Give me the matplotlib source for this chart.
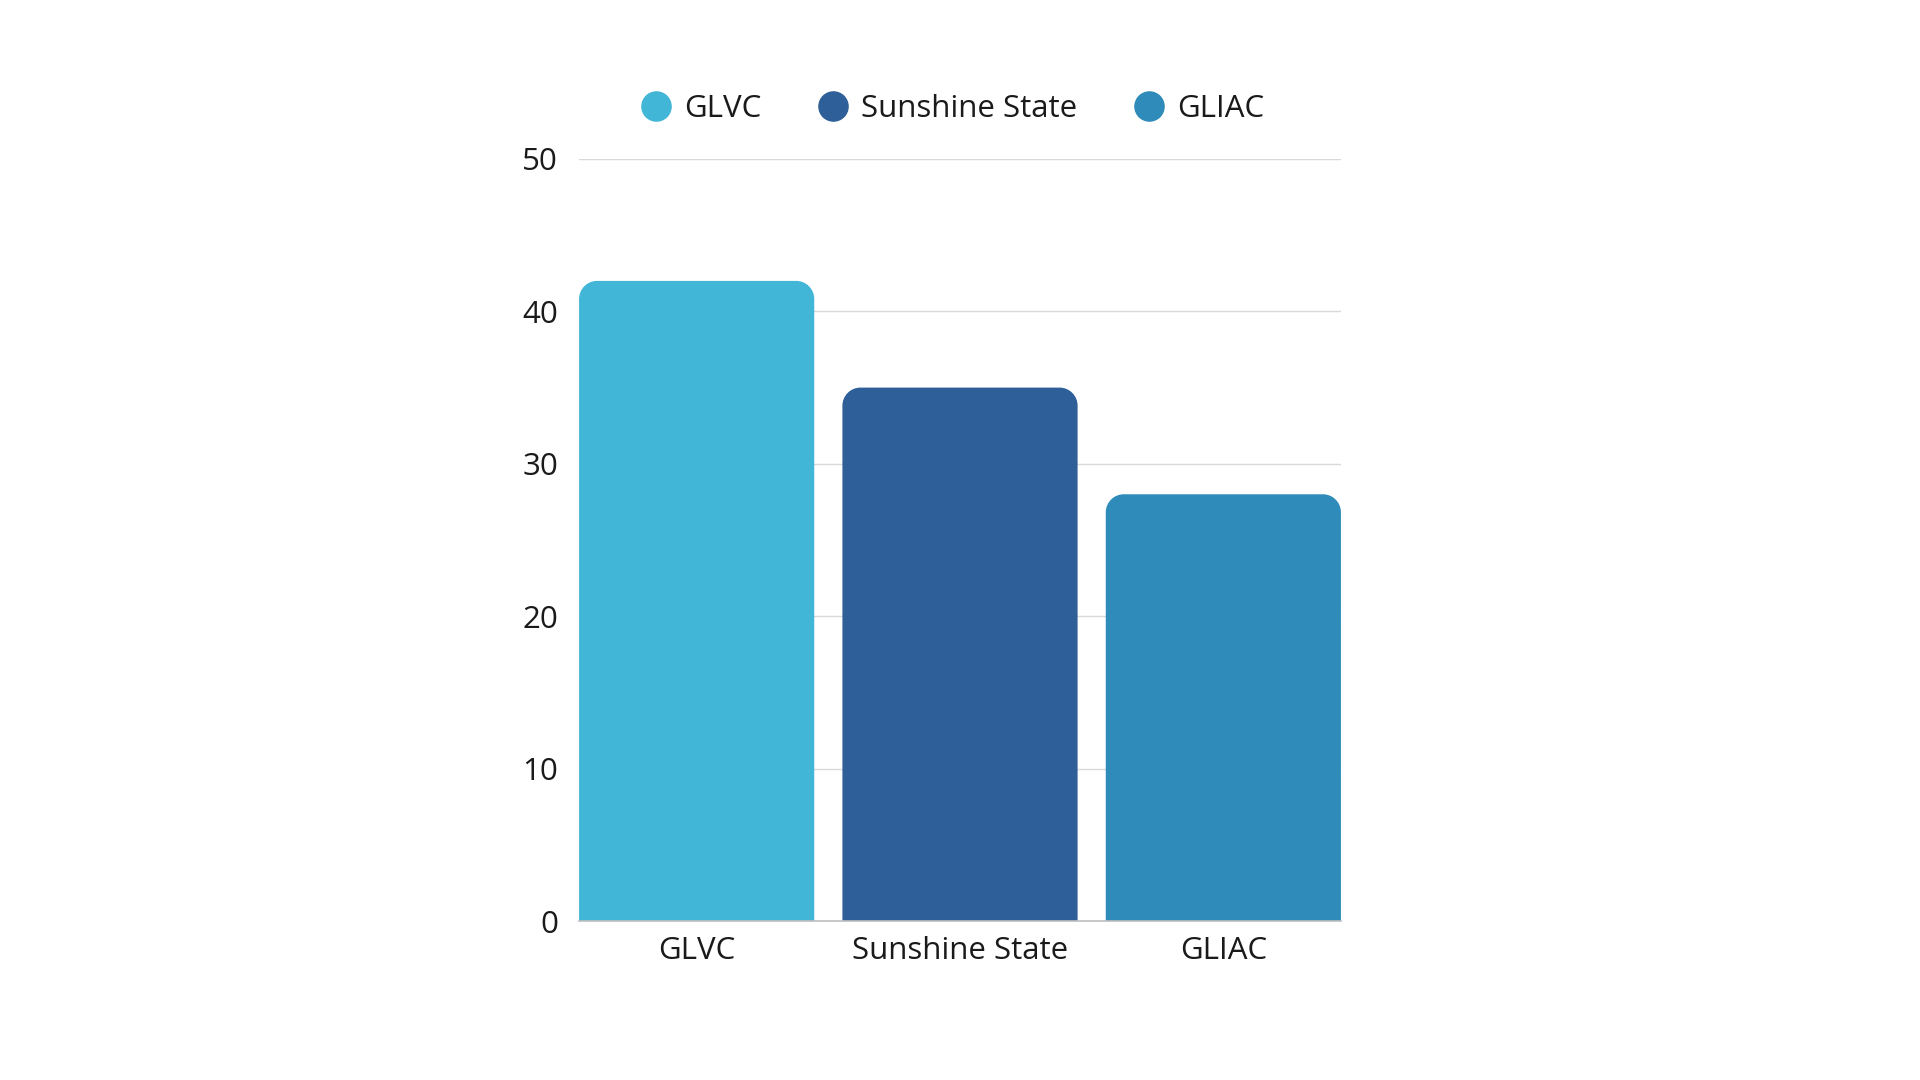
import matplotlib
matplotlib.use("Agg")
import matplotlib.pyplot as plt
from matplotlib.path import Path
from matplotlib.patches import PathPatch
from matplotlib.lines import Line2D

categories = ["GLVC", "Sunshine State", "GLIAC"]
values = [42, 35, 28]
colors = ["#42B6D6", "#2E5F98", "#2E8BBA"]
yticks = [0, 10, 20, 30, 40, 50]

plt.rcParams['font.family'] = ['Open Sans', 'DejaVu Sans']

fig = plt.figure(figsize=(19.2, 10.8), dpi=100)
ax = fig.add_axes([0.3016, 0.1472, 0.3968, 0.7056])

width = 0.893
bars = ax.bar(range(len(categories)), values, width=width, color=colors, zorder=3)
ax.set_xlim(-width / 2, len(categories) - 1 + width / 2)
ax.set_ylim(0, 50)
ax.set_yticks(yticks)
ax.set_yticklabels([str(t) for t in yticks])
ax.set_xticks(range(len(categories)))
ax.set_xticklabels(categories)

fig.canvas.draw()
# rounded top corners
r_px = 18
bbox = ax.get_window_extent()
px_per_x = bbox.width / (ax.get_xlim()[1] - ax.get_xlim()[0])
px_per_y = bbox.height / (ax.get_ylim()[1] - ax.get_ylim()[0])
rx = r_px / px_per_x
ry = r_px / px_per_y
k = 0.5523
for b in bars:
    x0 = b.get_x(); w = b.get_width(); h = b.get_height(); y0 = b.get_y()
    x1 = x0 + w; y1 = y0 + h
    verts = [
        (x0, y0), (x0, y1 - ry),
        (x0, y1 - ry + k * ry), (x0 + rx - k * rx, y1), (x0 + rx, y1),
        (x1 - rx, y1),
        (x1 - rx + k * rx, y1), (x1, y1 - ry + k * ry), (x1, y1 - ry),
        (x1, y0), (x0, y0),
    ]
    codes = [Path.MOVETO, Path.LINETO,
             Path.CURVE4, Path.CURVE4, Path.CURVE4,
             Path.LINETO,
             Path.CURVE4, Path.CURVE4, Path.CURVE4,
             Path.LINETO, Path.CLOSEPOLY]
    patch = PathPatch(Path(verts, codes), facecolor=b.get_facecolor(),
                      edgecolor='none', zorder=3)
    ax.add_patch(patch)
    b.set_visible(False)

for s in ['top', 'right', 'left']:
    ax.spines[s].set_visible(False)
ax.spines['bottom'].set_color('#BFBFBF')
ax.spines['bottom'].set_linewidth(1.2)
ax.spines['bottom'].set_zorder(4)
ax.yaxis.grid(True, color='#D9D9D9', linewidth=1.0, zorder=0)
ax.set_axisbelow(True)
ax.tick_params(axis='both', length=0, labelsize=22.5, colors='#1a1a1a')
ax.tick_params(axis='y', pad=15)
ax.tick_params(axis='x', pad=11)

handles = [Line2D([0], [0], marker='o', linestyle='none', markersize=21,
                  markerfacecolor=c, markeredgecolor=c) for c in colors]
fig.legend(handles, categories, loc='center', bbox_to_anchor=(0.496, 0.899),
           ncol=3, frameon=False, fontsize=22.5, handlelength=1.0,
           handletextpad=0.4, columnspacing=1.78, labelcolor='#1a1a1a')

fig.savefig("out.png", dpi=100, facecolor='white')
